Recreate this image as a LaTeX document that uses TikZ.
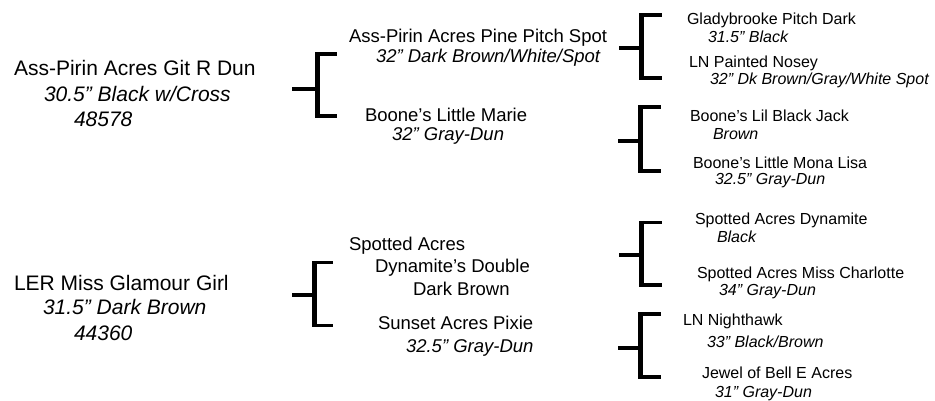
\documentclass[tikz,border=0pt]{standalone}
\usepackage{fontspec}
\setmainfont{Liberation Sans}
\begin{document}
\begin{tikzpicture}[x=1pt,y=-1pt,
  t/.style={anchor=base west,inner sep=0pt,outer sep=0pt},
  big/.style={t,font=\fontsize{21}{25}\selectfont},
  bigi/.style={t,font=\fontsize{21}{25}\selectfont\itshape},
  mid/.style={t,font=\fontsize{18.5}{20}\selectfont},
  midi/.style={t,font=\fontsize{18.5}{20}\selectfont\itshape},
  sm/.style={t,font=\fontsize{16}{18}\selectfont},
  smi/.style={t,font=\fontsize{16}{18}\selectfont\itshape},
  brh/.style={line width=3.5pt,line cap=butt},
  brv/.style={line width=5pt,line cap=butt}]
\useasboundingbox (0,0) rectangle (935,401);
\fill[white] (0,0) rectangle (935,401);

% roots
\node[big]  (r1a) at (14,76)  {Ass-Pirin Acres Git R Dun};
\node[bigi] (r1b) at (44,102) {30.5” Black w/Cross};
\node[bigi] (r1c) at (74,127) {48578};
\node[big]  (r2a) at (14,290) {LER Miss Glamour Girl};
\node[bigi] (r2b) at (43,314) {31.5” Dark Brown};
\node[bigi] (r2c) at (74,340) {44360};

% parents
\node[mid]  (m1a) at (349,43)  {Ass-Pirin Acres Pine Pitch Spot};
\node[midi] (m1b) at (376,63)  {32” Dark Brown/White/Spot};
\node[mid]  (m2a) at (365,122) {Boone’s Little Marie};
\node[midi] (m2b) at (392,141) {32” Gray-Dun};
\node[mid]  (m3a) at (349,250) {Spotted Acres};
\node[mid]  (m3b) at (375,272) {Dynamite’s Double};
\node[mid]  (m3c) at (413,295) {Dark Brown};
\node[mid]  (m4a) at (378,329) {Sunset Acres Pixie};
\node[midi] (m4b) at (406,352) {32.5” Gray-Dun};

% grandparents
\node[sm]  (s1a) at (687,25)  {Gladybrooke Pitch Dark};
\node[smi] (s1b) at (708,43)  {31.5” Black};
\node[sm]  (s2a) at (689,68)  {LN Painted Nosey};
\node[smi] (s2b) at (710,85)  {32” Dk Brown/Gray/White Spot};
\node[sm]  (s3a) at (690,122) {Boone’s Lil Black Jack};
\node[smi] (s3b) at (713,140) {Brown};
\node[sm]  (s4a) at (693,168) {Boone’s Little Mona Lisa};
\node[smi] (s4b) at (715,185) {32.5” Gray-Dun};
\node[sm]  (s5a) at (695,225) {Spotted Acres Dynamite};
\node[smi] (s5b) at (717,242) {Black};
\node[sm]  (s6a) at (697,278) {Spotted Acres Miss Charlotte};
\node[smi] (s6b) at (719,295) {34” Gray-Dun};
\node[sm]  (s7a) at (683,325) {LN Nighthawk};
\node[smi] (s7b) at (707,347) {33” Black/Brown};
\node[sm]  (s8a) at (702,378) {Jewel of Bell E Acres};
\node[smi] (s8b) at (715,397) {31” Gray-Dun};

% brackets: stem, top, bottom, vertical
\draw[brh] (292,89) -- (317,89);
\draw[brh] (317,54) -- (337,54);
\draw[brh] (317,116) -- (337,116);
\draw[brv] (317,52.25) -- (317,117.75);

\draw[brh] (292,295) -- (314,295);
\draw[brh] (314,262.5) -- (333,262.5);
\draw[brh] (314,325.5) -- (333,325.5);
\draw[brv] (314,260.75) -- (314,327.25);

\draw[brh] (619,48) -- (641,48);
\draw[brh] (641,15) -- (662,15);
\draw[brh] (641,78) -- (662,78);
\draw[brv] (641,13.25) -- (641,79.75);

\draw[brh] (618,141) -- (640.5,141);
\draw[brh] (640.5,107) -- (661,107);
\draw[brh] (640.5,171) -- (661,171);
\draw[brv] (640.5,105.25) -- (640.5,172.75);

\draw[brh] (619,255) -- (641,255);
\draw[brh] (641,222.5) -- (662,222.5);
\draw[brh] (641,285) -- (662,285);
\draw[brv] (641,220.75) -- (641,286.75);

\draw[brh] (618,348) -- (640.5,348);
\draw[brh] (640.5,314) -- (661,314);
\draw[brh] (640.5,377) -- (661,377);
\draw[brv] (640.5,312.25) -- (640.5,378.75);
\end{tikzpicture}
\end{document}
